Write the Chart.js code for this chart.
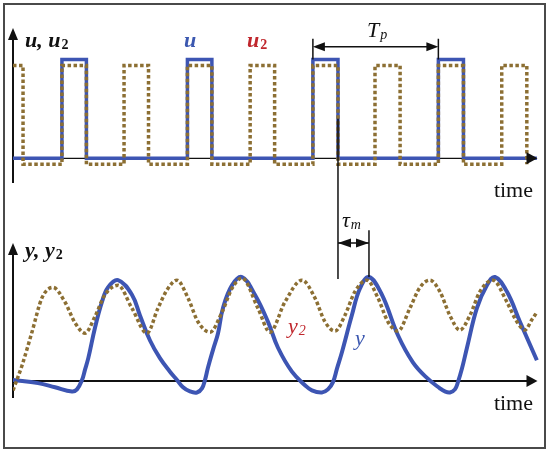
<!DOCTYPE html>
<html>
<head>
<meta charset="utf-8">
<script src="https://cdn.jsdelivr.net/npm/chart.js@4.4.1/dist/chart.umd.min.js"></script>
<style>
  html, body { margin: 0; padding: 0; background: #fff; }
  #wrap { position: relative; width: 550px; height: 452px; }
  #wrap canvas { position: absolute; left: 0; top: 0; }
  #frame { position: absolute; left: 3px; top: 3px; width: 543px; height: 446px;
           box-sizing: border-box; border: 2px solid #4a4a4a; }
</style>
</head>
<body>
<div id="wrap">
  <div id="frame"></div>
  <canvas id="topChart" width="550" height="452"></canvas>
  <canvas id="bottomChart" width="550" height="452"></canvas>
</div>
<script>
// ── Data (time in arbitrary units, period Tp = 10) ──
// input u: step levels, each value holds until the next time
const uTime  = [0, 3.9, 5.85, 13.9, 15.85, 23.9, 25.9, 33.9, 35.9, 41.75];
const uLevel = [0, 1, 0, 1, 0, 1, 0, 1, 0, 0];

// input u2 (twice the frequency)
const u2Time  = [0, 0.8, 3.9, 5.85, 8.85, 10.8, 13.9, 15.85, 18.9, 20.85,
                 23.9, 25.9, 28.85, 30.85, 33.9, 35.9, 38.95, 40.95];
const u2Level = [0.94, -0.06, 0.94, -0.06, 0.94, -0.06, 0.94, -0.06, 0.94, -0.06,
                 0.94, -0.06, 0.94, -0.06, 0.94, -0.06, 0.94, -0.06];

// output y
const yTime = [0, 2.0, 3.35, 4.7, 5.1, 5.5, 5.74, 6.0, 6.53, 7.09, 7.57, 8.37, 9.48, 10.12,
               10.92, 11.71, 12.51, 13.07, 13.55, 14.1, 14.66, 15.06, 15.3, 15.54, 15.94,
               16.34, 16.73, 17.45, 18.25, 19.28, 20.32, 21.12, 22.23, 23.27, 23.82, 24.62,
               25.1, 25.5, 25.82, 26.22, 27.0, 27.65, 28.37, 29.4, 30.68, 31.87, 32.99,
               34.02, 34.42, 34.82, 35.22, 35.46, 35.78, 36.18, 36.97, 37.77, 38.41, 39.36,
               40.4, 41.75];
const yVals = [0.01, -0.02, -0.06, -0.10, -0.08, 0.01, 0.11, 0.22, 0.51, 0.76, 0.90, 0.97, 0.83, 0.63,
               0.39, 0.22, 0.09, 0.01, -0.06, -0.10, -0.11, -0.07, 0.01, 0.13, 0.30,
               0.46, 0.70, 0.92, 1.0, 0.83, 0.57, 0.32, 0.09, -0.04, -0.09, -0.11,
               -0.08, -0.01, 0.12, 0.28, 0.63, 0.89, 1.0, 0.83, 0.44, 0.18, 0.03,
               -0.07, -0.10, -0.11, -0.08, -0.01, 0.12, 0.32, 0.70, 0.92, 1.0, 0.86,
               0.57, 0.20];

// output y2
const y2Time = [0, 0.72, 1.51, 2.31, 3.19, 4.14, 4.94, 5.74, 6.53, 7.33, 8.37, 9.48, 10.68,
                11.55, 12.35, 13.07, 13.94, 14.74, 15.7, 16.65, 17.45, 18.25, 19.52, 20.48,
                21.67, 23.03, 24.06, 24.86, 25.66, 26.45, 27.25, 28.21, 29.08, 29.88, 30.68,
                31.63, 32.43, 33.23, 34.02, 34.82, 35.62, 36.41, 37.21, 38.25, 39.36, 40.16,
                40.8, 41.35, 41.75];
const y2Vals = [-0.09, 0.15, 0.47, 0.80, 0.90, 0.76, 0.56, 0.46, 0.62, 0.83, 0.92, 0.70, 0.46,
                0.70, 0.89, 0.97, 0.80, 0.57, 0.47, 0.66, 0.89, 0.99, 0.70, 0.47,
                0.76, 0.97, 0.80, 0.57, 0.48, 0.63, 0.86, 0.97, 0.80, 0.57, 0.48,
                0.70, 0.90, 0.97, 0.86, 0.63, 0.49, 0.63, 0.86, 0.97, 0.76, 0.57,
                0.49, 0.59, 0.66];

// ── Styling ────────────────────────────────────────────────────────────
const BLUE = '#3d55b3';
const DOTS = '#8c6f33';
const RED_TXT = '#c0272d';
const BLUE_TXT = '#3c58b0';
const SERIF = '"Liberation Serif", "DejaVu Serif", serif';
const X_MAX = 42;
const AXIS_END = 41.8;

const toXY = (xs, ys) => xs.map((x, i) => ({ x: x, y: ys[i] }));

function arrowHead(ctx, x, y, dir, len, half) {
    ctx.beginPath();
    if (dir === 'up') {
        ctx.moveTo(x, y); ctx.lineTo(x - half, y + len); ctx.lineTo(x + half, y + len);
    } else if (dir === 'right') {
        ctx.moveTo(x, y); ctx.lineTo(x - len, y - half); ctx.lineTo(x - len, y + half);
    } else {
        ctx.moveTo(x, y); ctx.lineTo(x + len, y - half); ctx.lineTo(x + len, y + half);
    }
    ctx.closePath();
    ctx.fill();
}

function subText(ctx, main, sub, x, y, font, subFont, color) {
    ctx.fillStyle = color;
    ctx.font = font;
    ctx.textAlign = 'left';
    ctx.textBaseline = 'alphabetic';
    ctx.fillText(main, x, y);
    const w = ctx.measureText(main).width;
    ctx.font = subFont;
    ctx.fillText(sub, x + w + 1, y + 2);
}

// axes with arrows, drawn under the curves
const arrowAxes = {
    id: 'arrowAxes',
    beforeDatasetsDraw(chart, args, opts) {
        const { ctx, chartArea, scales } = chart;
        const x0 = scales.x.getPixelForValue(0);
        const y0 = scales.y.getPixelForValue(0);
        const xEnd = scales.x.getPixelForValue(AXIS_END);
        ctx.save();
        ctx.strokeStyle = '#111';
        ctx.fillStyle = '#111';
        ctx.lineWidth = opts.hWidth;
        ctx.beginPath();
        ctx.moveTo(x0, y0);
        ctx.lineTo(xEnd - 6, y0);
        ctx.stroke();
        ctx.lineWidth = 2;
        ctx.beginPath();
        ctx.moveTo(x0, chartArea.bottom);
        ctx.lineTo(x0, chartArea.top + 8);
        ctx.stroke();
        arrowHead(ctx, x0, chartArea.top, 'up', 12, 5);
        ctx.restore();
    },
    afterDatasetsDraw(chart) {
        const { ctx, scales } = chart;
        const y0 = scales.y.getPixelForValue(0);
        const xEnd = scales.x.getPixelForValue(AXIS_END);
        ctx.save();
        ctx.fillStyle = '#111';
        arrowHead(ctx, xEnd, y0, 'right', 11, 6);
        ctx.restore();
    }
};

// texts and dimension marks of the upper panel
const topNotes = {
    id: 'topNotes',
    afterDatasetsDraw(chart) {
        const { ctx, scales } = chart;
        const sx = v => scales.x.getPixelForValue(v);
        const sy = v => scales.y.getPixelForValue(v);
        ctx.save();
        subText(ctx, 'u, u', '2', 25, 47, 'bold italic 22px ' + SERIF, 'bold 14px ' + SERIF, '#111');
        subText(ctx, 'u', '', 184, 47, 'bold italic 22px ' + SERIF, '', BLUE_TXT);
        subText(ctx, 'u', '2', 247, 47, 'bold italic 22px ' + SERIF, 'bold 14px ' + SERIF, RED_TXT);

        // Tp dimension
        const xa = sx(23.9), xb = sx(33.9), ya = sy(1.13);
        ctx.strokeStyle = '#111';
        ctx.fillStyle = '#111';
        ctx.lineWidth = 1.5;
        ctx.beginPath();
        ctx.moveTo(xa, sy(1.21)); ctx.lineTo(xa, sy(1.0));
        ctx.moveTo(xb, sy(1.21)); ctx.lineTo(xb, sy(1.0));
        ctx.moveTo(xa + 8, ya); ctx.lineTo(xb - 8, ya);
        ctx.stroke();
        arrowHead(ctx, xa, ya, 'left', 12, 4.5);
        arrowHead(ctx, xb, ya, 'right', 12, 4.5);
        subText(ctx, 'T', 'p', 367, 37, 'italic 22px ' + SERIF, 'italic 14px ' + SERIF, '#111');

        ctx.font = '22px ' + SERIF;
        ctx.textAlign = 'right';
        ctx.fillStyle = '#111';
        ctx.fillText('time', 533, 197);
        ctx.restore();
    }
};

// texts and the delay mark of the lower panel
const bottomNotes = {
    id: 'bottomNotes',
    afterDatasetsDraw(chart) {
        const { ctx, scales } = chart;
        const sx = v => scales.x.getPixelForValue(v);
        const sy = v => scales.y.getPixelForValue(v);
        const topY = topChart.scales.y;
        ctx.save();
        subText(ctx, 'y, y', '2', 25, 257, 'bold italic 22px ' + SERIF, 'bold 14px ' + SERIF, '#111');
        subText(ctx, 'y', '2', 288, 333, 'italic 22px ' + SERIF, 'italic 14px ' + SERIF, RED_TXT);
        subText(ctx, 'y', '', 355, 345, 'italic 22px ' + SERIF, '', BLUE_TXT);

        // tau_m dimension
        const xa = sx(25.9), xb = sx(28.37), ya = sy(1.327);
        ctx.strokeStyle = '#111';
        ctx.fillStyle = '#111';
        ctx.lineWidth = 1.5;
        ctx.beginPath();
        ctx.moveTo(xa, topY.getPixelForValue(0.4)); ctx.lineTo(xa, sy(0.98));
        ctx.moveTo(xb, sy(1.45)); ctx.lineTo(xb, sy(1.0));
        ctx.moveTo(xa, ya); ctx.lineTo(xb, ya);
        ctx.stroke();
        arrowHead(ctx, xa, ya, 'left', 13, 4.5);
        arrowHead(ctx, xb, ya, 'right', 13, 4.5);
        subText(ctx, '\u03c4', 'm', 342, 227, 'italic 22px ' + SERIF, 'italic 14px ' + SERIF, '#111');

        ctx.font = '22px ' + SERIF;
        ctx.textAlign = 'right';
        ctx.fillStyle = '#111';
        ctx.fillText('time', 533, 410);
        ctx.restore();
    }
};

const baseOptions = (pad, yMin, yMax, hWidth) => ({
    responsive: false,
    animation: false,
    events: [],
    layout: { padding: pad },
    elements: { point: { radius: 0 } },
    plugins: { legend: { display: false }, tooltip: { enabled: false }, arrowAxes: { hWidth: hWidth } },
    scales: {
        x: { type: 'linear', min: 0, max: X_MAX, display: false },
        y: { type: 'linear', min: yMin, max: yMax, display: false }
    }
});

const topChart = new Chart(document.getElementById('topChart'), {
    type: 'line',
    data: {
        datasets: [
            { label: 'u2', data: toXY(u2Time, u2Level), stepped: true, borderColor: DOTS,
              borderWidth: 3.5, borderDash: [3.5, 2.5], borderCapStyle: 'butt', fill: false },
            { label: 'u', data: toXY(uTime, uLevel), stepped: true, borderColor: BLUE,
              borderWidth: 3.5, fill: false }
        ]
    },
    options: baseOptions({ left: 13, right: 10, top: 28, bottom: 269 }, -0.25, 1.32, 1.2),
    plugins: [arrowAxes, topNotes]
});

const bottomChart = new Chart(document.getElementById('bottomChart'), {
    type: 'line',
    data: {
        datasets: [
            { label: 'y2', data: toXY(y2Time, y2Vals), borderColor: DOTS, cubicInterpolationMode: 'monotone',
              borderWidth: 3.5, borderDash: [3.5, 2.5], borderCapStyle: 'butt', fill: false },
            { label: 'y', data: toXY(yTime, yVals), borderColor: BLUE, tension: 0.4,
              borderWidth: 4, borderJoinStyle: 'round', fill: false }
        ]
    },
    options: baseOptions({ left: 13, right: 10, top: 243, bottom: 54 }, -0.163, 1.327, 2),
    plugins: [arrowAxes, bottomNotes]
});
</script>
</body>
</html>
